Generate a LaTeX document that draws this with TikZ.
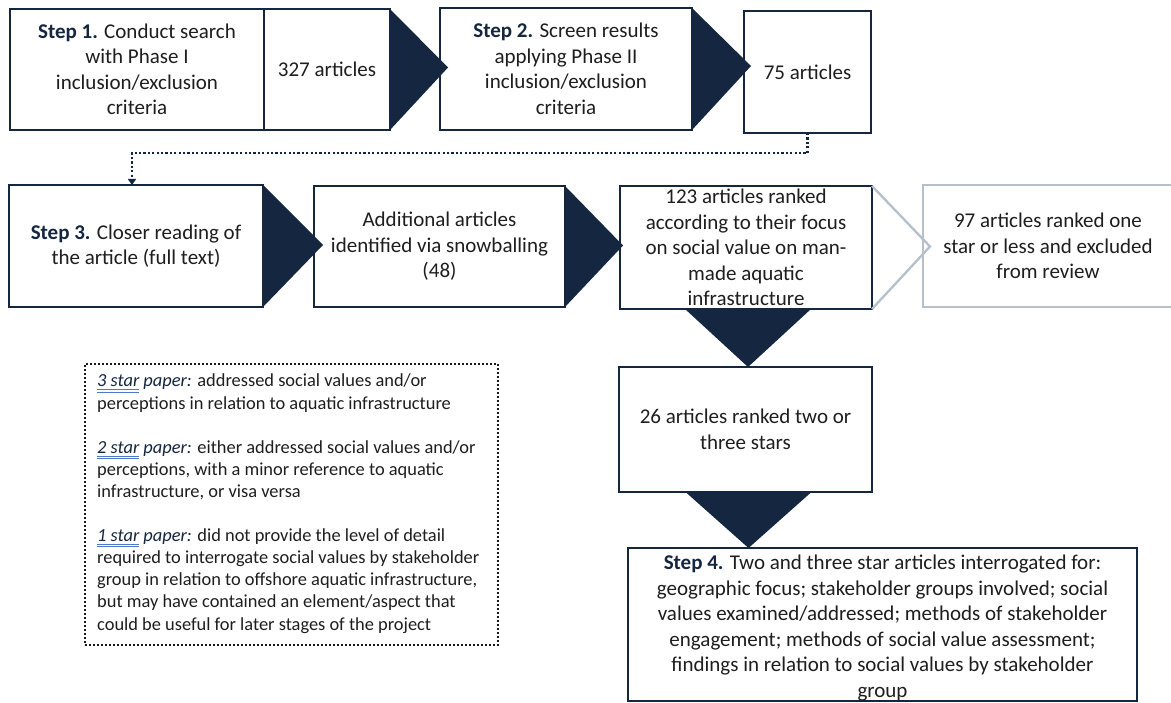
\documentclass[tikz,border=0pt]{standalone}
\usepackage{fontspec}
\setmainfont{Carlito}
\usetikzlibrary{arrows.meta,calc}
\definecolor{navy}{RGB}{21,38,64}
\definecolor{txt}{RGB}{30,30,30}
\definecolor{gline}{RGB}{182,192,202}
\definecolor{ulblue}{RGB}{80,120,205}
\newcommand\stp[1]{{\bfseries\color{navy}#1}}
\newcommand\dul[1]{\leavevmode\setbox0=\hbox{#1}\rlap{\color{ulblue}\rule[-3.2pt]{\wd0}{0.8pt}}\rlap{\color{ulblue}\rule[-5.4pt]{\wd0}{0.8pt}}\box0\relax}
\newcommand\starlbl[1]{{\itshape\color{navy}\dul{#1 star}\ paper:}}
\begin{document}
\begin{tikzpicture}[x=1pt,y=-1pt,
  box/.style={draw=navy, line width=2.5pt, fill=white, inner sep=0pt, outer sep=0pt},
  gbox/.style={draw=gline, line width=2.3pt, fill=white, inner sep=0pt, outer sep=0pt},
  legbox/.style={draw=black!90, line width=2pt, dash pattern=on 2pt off 2pt, inner sep=0pt, outer sep=0pt},
  lbl/.style={text=txt, align=center, inner sep=0pt, font=\fontsize{21}{25.5}\selectfont},
  legtxt/.style={text=txt, align=left, inner sep=0pt, font=\fontsize{18.4}{22.1}\selectfont},
  chev/.style={fill=navy, draw=none},
  gchev/.style={draw=gline, line width=2.3pt, line join=miter},
  dotline/.style={draw=navy, line width=2.2pt, dash pattern=on 2.2pt off 2.2pt, -{Triangle[width=8pt,length=6pt]}}]
\useasboundingbox (0,0) rectangle (1171,703);
\fill[white] (0,0) rectangle (1171,703);

% boxes
\node[box, minimum width=254pt, minimum height=121pt] (s1) at (137,69.5) {};
\node[box, minimum width=126pt, minimum height=121pt] (n327) at (327,69.5) {};
\node[box, minimum width=252pt, minimum height=122pt] (s2) at (566,69) {};
\node[box, minimum width=127pt, minimum height=122pt] (n75) at (807.5,72) {};
\node[box, minimum width=254pt, minimum height=122pt] (s3) at (136,246) {};
\node[box, minimum width=251pt, minimum height=121pt] (add) at (439.5,246.5) {};
\node[box, minimum width=252pt, minimum height=123pt] (r123) at (746,247.5) {};
\node[gbox, minimum width=250pt, minimum height=122pt] (r97) at (1048,246) {};
\node[box, minimum width=253pt, minimum height=125pt] (r26) at (745.5,429.5) {};
\node[box, minimum width=509pt, minimum height=153pt] (s4) at (882.5,624.5) {};
\node[legbox, minimum width=413pt, minimum height=281pt] (leg) at (291.5,504.5) {};

% chevrons
\fill[chev] (n327.north east) -- ($(n327.east)+(58,-2)$) -- (n327.south east) -- cycle;
\fill[chev] (s2.north east) -- ($(s2.east)+(59,-3)$) -- (s2.south east) -- cycle;
\fill[chev] (s3.north east) -- ($(s3.east)+(60,-1)$) -- (s3.south east) -- cycle;
\fill[chev] (add.north east) -- ($(add.east)+(58,-1)$) -- (add.south east) -- cycle;
\draw[gchev] (r123.north east) -- ($(r123.east)+(58,-1)$) -- (r123.south east);
\fill[chev] ($(r123.south)+(-61,0)$) -- ($(r123.south)+(2,58)$) -- ($(r123.south)+(65,0)$) -- cycle;
\fill[chev] ($(r26.south)+(-60,0)$) -- ($(r26.south)+(3,56)$) -- ($(r26.south)+(66,0)$) -- cycle;

% dotted connector
\draw[dotline] (n75.south) -- ++(0,20) -| ([xshift=-4pt]s3.north);

% texts
\node[lbl] (t1) at (s1) {\stp{Step 1.} Conduct search\\with Phase I\\inclusion/exclusion\\criteria};
\node[lbl] (t327) at (n327) {327 articles};
\node[lbl] (t2) at (s2) {\stp{Step 2.} Screen results\\applying Phase II\\inclusion/exclusion\\criteria};
\node[lbl] (t75) at (n75) {75 articles};
\node[lbl] (t3) at (s3) {\stp{Step 3.} Closer reading of\\the article (full text)};
\node[lbl] (tadd) at (add) {Additional articles\\identified via snowballing\\(48)};
\node[lbl] (t123) at (r123.center) {123 articles ranked\\according to their focus\\on social value on man-\\made aquatic\\infrastructure};
\node[lbl] (t97) at (r97) {97 articles ranked one\\star or less and excluded\\from review};
\node[lbl] (t26) at (r26) {26 articles ranked two or\\three stars};
\node[lbl] (t4) at ([yshift=-3.5pt]s4.center) {\stp{Step 4.} Two and three star articles interrogated for:\\geographic focus; stakeholder groups involved; social\\values examined/addressed; methods of stakeholder\\engagement; methods of social value assessment;\\findings in relation to social values by stakeholder\\group};
\node[legtxt, anchor=north west] (tleg) at (97,374) {\starlbl{3} addressed social values and/or\\perceptions in relation to aquatic infrastructure\\[22.1pt]\starlbl{2} either addressed social values and/or\\perceptions, with a minor reference to aquatic\\infrastructure, or visa versa\\[22.1pt]\starlbl{1} did not provide the level of detail\\required to interrogate social values by stakeholder\\group in relation to offshore aquatic infrastructure,\\but may have contained an element/aspect that\\could be useful for later stages of the project};
\end{tikzpicture}
\end{document}
